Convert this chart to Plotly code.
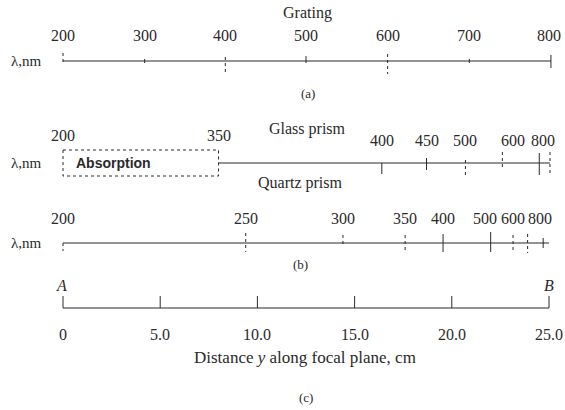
import plotly.graph_objects as go

# ---- data ----
grating_wavelengths = [200, 300, 400, 500, 600, 700, 800]
grating_positions_cm = [0.0, 4.2, 8.35, 12.5, 16.7, 20.9, 25.0]

glass_wavelengths = [200, 350, 400, 450, 500, 600, 800]
glass_positions_cm = [0.0, 8.0, 16.4, 18.7, 20.7, 22.6, 24.5]
glass_tick_labels = ["200", "350", "400", "450", "500", "600", "800"]

quartz_wavelengths = [200, 250, 300, 350, 400, 500, 600, 700, 800]
quartz_positions_cm = [0.0, 9.4, 14.4, 17.6, 19.55, 22.0, 23.15, 23.9, 24.7]
quartz_tick_labels = ["200", "250", "300", "350", "400", "500", "600", "", "800"]

distance_ticks_cm = [0, 5, 10, 15, 20, 25]
distance_tick_labels = ["0", "5.0", "10.0", "15.0", "20.0", "25.0"]

# ---- layout helpers (pixel geometry of the page) ----
X0, SCALE = 63.0, 19.44   # pixel of 0 cm, pixels per cm
def px(x):
    return (x - X0) / SCALE

INK = "#2a2a2a"
SERIF = "Liberation Serif, Times New Roman, serif"
FS = 16

fig = go.Figure()

def hline(x0, x1, y, dash="solid", width=1.1):
    fig.add_trace(go.Scatter(x=[x0, x1], y=[y, y], mode="lines",
                             line=dict(color=INK, width=width, dash=dash),
                             hoverinfo="skip", showlegend=False))

def ticks(xs, y0s, y1s, dash="solid"):
    X, Y = [], []
    for x, a, b in zip(xs, y0s, y1s):
        X += [x, x, None]
        Y += [a, b, None]
    fig.add_trace(go.Scatter(x=X, y=Y, mode="lines",
                             line=dict(color=INK, width=1, dash=dash),
                             hoverinfo="skip", showlegend=False))

def label(x, y, text, size=FS, family=SERIF, xanchor="center", **kw):
    fig.add_annotation(x=x, y=y, text=text, showarrow=False, xanchor=xanchor,
                       yanchor="middle", font=dict(family=family, size=size, color=INK), **kw)

# ---- (a) grating ----
yA = 61
hline(grating_positions_cm[0], grating_positions_cm[-1] + 0.1, yA)
ticks([grating_positions_cm[0]], [yA - 8], [yA + 2], dash="dot")
ticks([grating_positions_cm[2], grating_positions_cm[4]], [yA - 4, yA - 7], [yA + 13, yA + 13], dash="dot")
ticks([grating_positions_cm[1], grating_positions_cm[3], grating_positions_cm[5]], [yA - 2, yA - 5, yA - 2], [yA + 2, yA + 2, yA + 2])
ticks([grating_positions_cm[6] + 0.1], [yA - 6], [yA + 7])
for p, w in zip(grating_positions_cm, grating_wavelengths):
    label(p, 35, str(w))
label(12.6, 13, "Grating")
label(px(26), 61, "λ,nm", size=15)
label(12.6, 93, "(a)", size=13)

# ---- glass prism ----
yG = 163
fig.add_trace(go.Scatter(
    x=[glass_positions_cm[0], glass_positions_cm[1], glass_positions_cm[1], glass_positions_cm[0], glass_positions_cm[0]],
    y=[150, 150, 176, 176, 150], mode="lines",
    line=dict(color=INK, width=1, dash="dot"), hoverinfo="skip", showlegend=False))
hline(glass_positions_cm[1], 25.05, yG)
ticks([glass_positions_cm[2], glass_positions_cm[6]], [yG, yG - 10], [yG + 11, yG + 12])
ticks([glass_positions_cm[3]], [yG - 5], [yG + 7])
ticks([glass_positions_cm[4], glass_positions_cm[5], 25.05], [yG - 3, yG - 11, yG - 11], [yG + 13, yG + 5, yG + 13], dash="dot")
for i, (p, t) in enumerate(zip(glass_positions_cm, glass_tick_labels)):
    shift = {"600": 0.55, "800": 0.2}.get(t, 0)
    label(p + shift, 135 if i < 2 else 140, t)
label(px(113), 163, "<b>Absorption</b>", size=14, family="Liberation Sans, Arial, sans-serif")
label(px(307), 129, "Glass prism")
label(px(26), 163, "λ,nm", size=15)

# ---- quartz prism ----
yQ = 243
hline(quartz_positions_cm[0], 25.0, yQ)
ticks([quartz_positions_cm[0]], [yQ], [yQ + 8], dash="dot")
ticks([quartz_positions_cm[1], quartz_positions_cm[2], quartz_positions_cm[3], quartz_positions_cm[6], quartz_positions_cm[7]],
      [yQ - 10, yQ - 8, yQ - 8, yQ - 8, yQ - 9], [yQ + 9, yQ + 4, yQ + 8, yQ + 9, yQ + 10], dash="dot")
ticks([quartz_positions_cm[4], quartz_positions_cm[5], quartz_positions_cm[8]],
      [yQ - 9, yQ - 11, yQ - 5], [yQ + 9, yQ + 9, yQ + 5])
for p, t in zip(quartz_positions_cm, quartz_tick_labels):
    if t:
        shift = {"500": -0.3, "800": -0.15}.get(t, 0)
        label(p + shift, 218, t)
label(px(300), 183, "Quartz prism")
label(px(26), 243, "λ,nm", size=15)
label(px(300), 264, "(b)", size=13)

# ---- (c) distance scale ----
yD = 308
hline(distance_ticks_cm[0], distance_ticks_cm[-1], yD)
ticks(distance_ticks_cm, [yD - 12] * len(distance_ticks_cm), [yD] * len(distance_ticks_cm))
for p, t in zip(distance_ticks_cm, distance_tick_labels):
    label(p, 334, t)
label(-0.1, 285, "<i>A</i>")
label(25.0, 285, "<i>B</i>")
label(px(305), 357, "Distance <i>y</i> along focal plane, cm", size=17)
label(px(306), 397, "(c)", size=13)

fig.update_layout(
    width=565, height=410, margin=dict(l=0, r=0, t=0, b=0),
    paper_bgcolor="white", plot_bgcolor="white", showlegend=False,
    xaxis=dict(range=[px(0), px(565)], visible=False, fixedrange=True),
    yaxis=dict(range=[410, 0], visible=False, fixedrange=True),
)
fig.write_html(
    "out.html",
    config={"displayModeBar": False},
    post_script="document.body.style.margin='0';document.body.style.overflow='hidden';"
                "document.documentElement.style.overflow='hidden';",
)
